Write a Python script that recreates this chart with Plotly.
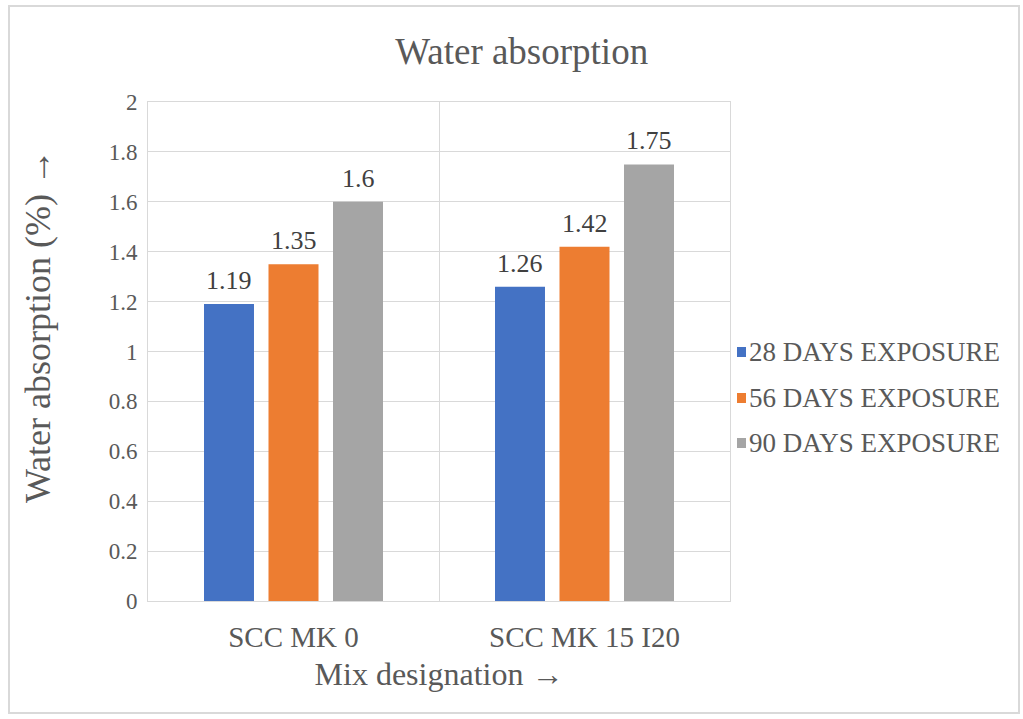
import plotly.graph_objects as go

# Mix designations and water absorption (%) at each exposure age
mixes = ["SCC MK 0", "SCC MK 15 I20"]
series_names = ["28 DAYS EXPOSURE", "56 DAYS EXPOSURE", "90 DAYS EXPOSURE"]
days_28 = [1.19, 1.26]
days_56 = [1.35, 1.42]
days_90 = [1.6, 1.75]
y_ticks = [0, 0.2, 0.4, 0.6, 0.8, 1, 1.2, 1.4, 1.6, 1.8, 2]

series_values = [days_28, days_56, days_90]
colors = ["#4472C4", "#ED7D31", "#A5A5A5"]

FONT = "Liberation Serif"
TEXT = "#595959"
GRID = "#D9D9D9"

W, H = 1023, 719
M_L, M_R, M_T, M_B = 148, 293, 102, 118
plot_w = W - M_L - M_R
plot_h = H - M_T - M_B

BARGAP = 0.335
GROUPGAP = 0.225

fig = go.Figure()
for name, vals, col in zip(series_names, series_values, colors):
    fig.add_trace(go.Bar(
        x=mixes, y=vals, name=name,
        marker=dict(color=col, line=dict(width=0)),
        showlegend=False,
        hoverinfo="x+y+name",
    ))

# value labels above each bar
cat_px = plot_w / len(mixes)
slot_px = cat_px * (1 - BARGAP) / len(series_names)
annotations = []
for i, vals in enumerate(series_values):
    shift = (i - (len(series_names) - 1) / 2) * slot_px
    for mix, v in zip(mixes, vals):
        annotations.append(dict(
            x=mix, y=v, xref="x", yref="y",
            text=f"{v:g}", showarrow=False,
            xanchor="center", yanchor="bottom",
            xshift=shift, yshift=7,
            font=dict(family=FONT, size=26, color="#404040"),
        ))

# legend drawn as swatches + labels to the right of the plot
shapes = []
leg_x0 = (737 - M_L) / plot_w
leg_sq = 9 / plot_w
leg_rows = [352, 398, 443]
for name, col, row in zip(series_names, colors, leg_rows):
    yc = (H - M_B - row) / plot_h
    half = 5 / plot_h
    shapes.append(dict(type="rect", xref="paper", yref="paper",
                       x0=leg_x0, x1=leg_x0 + leg_sq, y0=yc - half, y1=yc + half,
                       fillcolor=col, line=dict(width=0)))
    annotations.append(dict(
        x=leg_x0 + leg_sq, y=yc, xref="paper", yref="paper",
        text=name, showarrow=False, xanchor="left", yanchor="middle",
        xshift=1, font=dict(family=FONT, size=27, color=TEXT),
    ))

# vertical axis title, placed to the left of the tick labels
annotations.append(dict(
    x=(38 - M_L) / plot_w, y=(H - M_B - 326) / plot_h,
    xref="paper", yref="paper", textangle=-90,
    text="Water absorption (%) →", showarrow=False,
    xanchor="center", yanchor="middle",
    font=dict(family=FONT, size=36, color=TEXT),
))

# outer chart border
shapes.append(dict(
    type="rect", xref="paper", yref="paper",
    x0=(9 - M_L) / plot_w, x1=(1019 - M_L) / plot_w,
    y0=(H - M_B - 713) / plot_h, y1=(H - M_B - 6) / plot_h,
    line=dict(color=GRID, width=2), layer="below",
))

fig.update_layout(
    width=W, height=H,
    margin=dict(l=M_L, r=M_R, t=M_T, b=M_B, autoexpand=False),
    paper_bgcolor="white", plot_bgcolor="white",
    barmode="group", bargap=BARGAP, bargroupgap=GROUPGAP,
    title=dict(text="Water absorption", x=0.51, xanchor="center",
               y=1 - 51 / H, yanchor="middle",
               font=dict(family=FONT, size=37, color=TEXT)),
    xaxis=dict(
        tickson="boundaries", showgrid=True, gridcolor=GRID, gridwidth=1,
        showline=True, linecolor=GRID, linewidth=1, mirror=True,
        ticks="", tickfont=dict(family=FONT, size=29, color=TEXT),
        ticklabelstandoff=10,
        title=dict(text="Mix designation →", standoff=10,
                   font=dict(family=FONT, size=32, color=TEXT)),
        automargin=False,
    ),
    yaxis=dict(
        range=[0, 2], tickvals=y_ticks, ticktext=[f"{t:g}" for t in y_ticks],
        showgrid=True, gridcolor=GRID, gridwidth=1,
        showline=True, linecolor=GRID, linewidth=1, mirror=True,
        zeroline=False, ticks="", ticklabelstandoff=5,
        tickfont=dict(family=FONT, size=23, color=TEXT),
        automargin=False,
    ),
    annotations=annotations,
    shapes=shapes,
)

fig.write_html("out.html")
